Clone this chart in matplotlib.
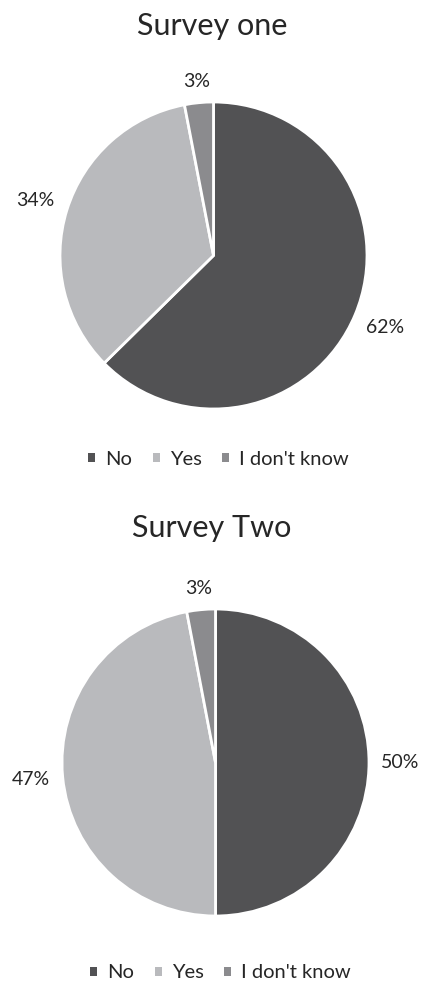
import numpy as np
import matplotlib
matplotlib.use("Agg")
import matplotlib.pyplot as plt
import matplotlib.patches as mpatches

# ---- data ----
categories = ["No", "Yes", "I don't know"]
survey_titles = ["Survey one", "Survey Two"]
survey_one = [62, 34, 3]
survey_two = [50, 47, 3]
colors = ["#525254", "#b9babd", "#8b8b8e"]

W, H = 424, 981
plt.rcParams['font.family'] = ['Lato', 'DejaVu Sans']
text_color = "#262626"

fig = plt.figure(figsize=(W / 100, H / 100), dpi=100)
ax = fig.add_axes([0, 0, 1, 1])

# layout (pixel units, y from top)
layouts = [
    dict(values=survey_one, title=survey_titles[0], cx=213.5, cy=255.5, r=153.5,
         title_y=35, legend_x=218.5, legend_y=459),
    dict(values=survey_two, title=survey_titles[1], cx=215.5, cy=762.5, r=153.5,
         title_y=537, legend_x=220.5, legend_y=973),
]

renderer = fig.canvas.get_renderer()
for L in layouts:
    vals = L["values"]
    center = (L["cx"], H - L["cy"])
    wedges, _ = ax.pie(vals, colors=colors, startangle=90, counterclock=False,
                       center=center, radius=L["r"],
                       wedgeprops=dict(edgecolor="white", linewidth=2.0))
    for w, v in zip(wedges, vals):
        ang = np.deg2rad((w.theta1 + w.theta2) / 2)
        txt = ax.text(0, 0, f"{v}%", fontsize=14,
                      color=text_color, ha="center", va="center")
        bb = txt.get_window_extent(renderer)
        hw, hh = bb.width / 2, bb.height / 2
        c, s = np.cos(ang), np.sin(ang)
        d = (L["r"] - 1) + 13 + abs(c) * hw + abs(s) * hh
        txt.set_position((center[0] + d * c, center[1] + d * s))
    ax.text(W / 2, H - L["title_y"], L["title"], fontsize=22, color=text_color,
            ha="center", va="baseline")
    handles = [mpatches.Patch(facecolor=col, edgecolor="none", label=cat)
               for cat, col in zip(categories, colors)]
    fig.legend(handles=handles, loc="center", ncol=3, frameon=False,
               bbox_to_anchor=(L["legend_x"] / W, 1 - L["legend_y"] / H),
               fontsize=14.5, handlelength=0.36, handleheight=0.32,
               handletextpad=0.5, columnspacing=1.0, labelcolor=text_color)

ax.set_xlim(0, W)
ax.set_ylim(0, H)
ax.set_aspect("auto")
ax.axis("off")

fig.savefig("out.png", dpi=100, facecolor="white")
